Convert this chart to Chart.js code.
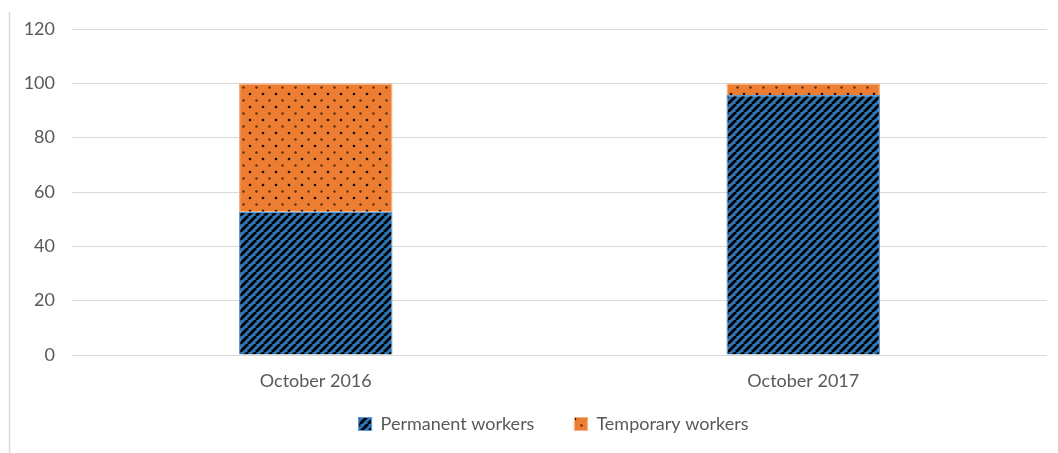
<!DOCTYPE html>
<html><head><meta charset="utf-8">
<script src="https://cdn.jsdelivr.net/npm/chart.js@4"></script>
<style>html,body{margin:0;padding:0;background:#fff;}canvas{display:block;}</style>
</head><body>
<canvas id="c" width="1058" height="453"></canvas>
<script>
const categories = ["October 2016", "October 2017"];
const permanentWorkers = [52.7, 95.7];
const temporaryWorkers = [47.3, 4.3];
const yTicks = [0, 20, 40, 60, 80, 100, 120];

function stripePattern() {
  const s = 8, c = document.createElement('canvas');
  c.width = s; c.height = s;
  const g = c.getContext('2d');
  g.fillStyle = '#2e75b6'; g.fillRect(0, 0, s, s);
  g.strokeStyle = '#000'; g.lineWidth = 2.8;
  for (let k = -1; k <= 1; k++) {
    g.beginPath(); g.moveTo(k * s, s); g.lineTo(k * s + s, 0); g.stroke();
  }
  return g.createPattern(c, 'repeat');
}
function dotPattern() {
  const w = 13, h = 13, c = document.createElement('canvas');
  c.width = w; c.height = h;
  const g = c.getContext('2d');
  g.fillStyle = '#ed7d31'; g.fillRect(0, 0, w, h);
  g.fillStyle = '#1a0d05';
  g.beginPath(); g.arc(3, 3, 1.3, 0, Math.PI * 2); g.fill();
  g.fillStyle = '#5a2e0e';
  g.beginPath(); g.arc(9.5, 9.5, 1.2, 0, Math.PI * 2); g.fill();
  return g.createPattern(c, 'repeat');
}

const layoutPlugin = {
  id: 'tweaks',
  afterLayout(chart) {
    const lg = chart.legend;
    if (lg) {
      const dx = 30, dy = -20;
      lg.left += dx; lg.right += dx;
      lg.top += dy; lg.bottom += dy;
    }
  },
  beforeDraw(chart) {
    const ctx = chart.ctx;
    ctx.save();
    ctx.strokeStyle = '#d9d9d9'; ctx.lineWidth = 1.5;
    ctx.beginPath(); ctx.moveTo(9.5, 12); ctx.lineTo(9.5, 453); ctx.stroke();
    ctx.restore();
  }
};

const FONT = { family: 'Lato', size: 18 };

new Chart(document.getElementById('c'), {
  type: 'bar',
  data: {
    labels: categories,
    datasets: [
      { label: 'Permanent workers', data: permanentWorkers, backgroundColor: stripePattern(),
        borderColor: '#5b9bd5', borderWidth: 1.2, barPercentage: 0.63, categoryPercentage: 0.5 },
      { label: 'Temporary workers', data: temporaryWorkers, backgroundColor: dotPattern(),
        borderColor: '#f4b183', borderWidth: 1.2, barPercentage: 0.63, categoryPercentage: 0.5 }
    ]
  },
  options: {
    responsive: false, animation: false,
    layout: { padding: { left: 0, right: 11, top: 29, bottom: -10 } },
    plugins: {
      tooltip: { enabled: false },
      legend: {
        position: 'bottom',
        labels: { font: FONT, color: '#595959', boxWidth: 13, boxHeight: 13, padding: 40 }
      }
    },
    scales: {
      x: {
        stacked: true,
        afterFit(s) { s.height = 40; },
        grid: { display: false },
        border: { display: false },
        ticks: { font: FONT, color: '#595959', padding: 7 }
      },
      y: {
        stacked: true, min: 0, max: 120,
        afterFit(s) { s.width = 72; },
        afterBuildTicks(s) { s.ticks = yTicks.map(v => ({ value: v })); },
        grid: { color: '#d9d9d9', lineWidth: 1, drawTicks: false },
        border: { display: false },
        ticks: { font: FONT, color: '#595959', padding: 17 }
      }
    }
  },
  plugins: [layoutPlugin]
});
</script>
</body></html>
